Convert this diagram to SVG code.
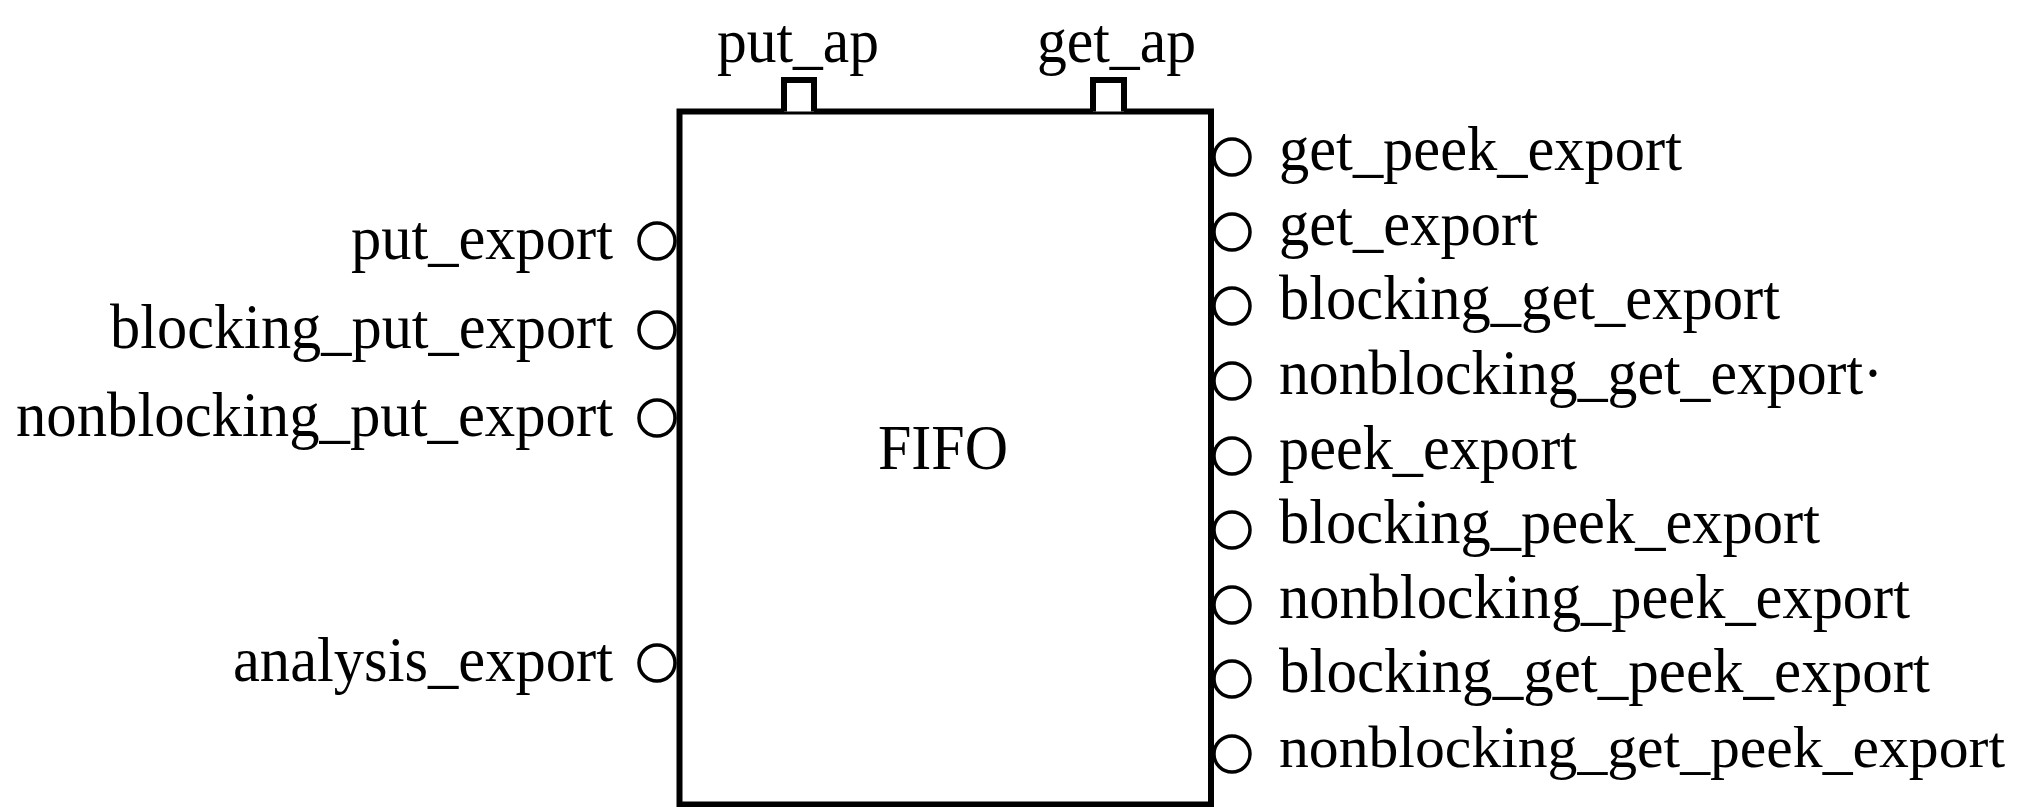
<svg xmlns="http://www.w3.org/2000/svg" width="2022" height="807" viewBox="0 0 2022 807">
<style>
  .lbl { font-family: "Liberation Serif", "Times New Roman", serif; font-size: 63px; fill: #000; }
  .l { text-anchor: end; }
  .port { fill: #fff; stroke: #000; stroke-width: 3.5; }
  .box { fill: #fff; stroke: #000; stroke-width: 6; }
  .ap { fill: #fff; stroke: #000; stroke-width: 6; }
</style>
<rect width="2022" height="807" fill="#fff"/>
<g id="fifo">
  <rect class="box" x="679.5" y="111.5" width="531.5" height="693"/>
  <text class="lbl" x="943" y="469" text-anchor="middle" textLength="130" lengthAdjust="spacingAndGlyphs">FIFO</text>
</g>
<g id="put_ap">
  <path class="ap" d="M784 111.5 V80 H814 V111.5"/>
  <text class="lbl" x="717" y="62" textLength="162" lengthAdjust="spacingAndGlyphs">put_ap</text>
</g>
<g id="get_ap">
  <path class="ap" d="M1093 111.5 V80 H1124 V111.5"/>
  <text class="lbl" x="1037" y="62" textLength="159" lengthAdjust="spacingAndGlyphs">get_ap</text>
</g>
<g id="put_export">
  <circle class="port" cx="657" cy="241" r="18"/>
  <text class="lbl l" x="613" y="259" textLength="262" lengthAdjust="spacingAndGlyphs">put_export</text>
</g>
<g id="blocking_put_export">
  <circle class="port" cx="657" cy="330" r="18"/>
  <text class="lbl l" x="613" y="348" textLength="503" lengthAdjust="spacingAndGlyphs">blocking_put_export</text>
</g>
<g id="nonblocking_put_export">
  <circle class="port" cx="657" cy="418" r="18"/>
  <text class="lbl l" x="613" y="436" textLength="597" lengthAdjust="spacingAndGlyphs">nonblocking_put_export</text>
</g>
<g id="analysis_export">
  <circle class="port" cx="657" cy="663" r="18"/>
  <text class="lbl l" x="613" y="681" textLength="380" lengthAdjust="spacingAndGlyphs">analysis_export</text>
</g>
<g id="get_peek_export">
  <circle class="port" cx="1232" cy="157" r="18"/>
  <text class="lbl" x="1279" y="170" textLength="403" lengthAdjust="spacingAndGlyphs">get_peek_export</text>
</g>
<g id="get_export">
  <circle class="port" cx="1232" cy="232" r="18"/>
  <text class="lbl" x="1279" y="245" textLength="259" lengthAdjust="spacingAndGlyphs">get_export</text>
</g>
<g id="blocking_get_export">
  <circle class="port" cx="1232" cy="306" r="18"/>
  <text class="lbl" x="1279" y="319" textLength="501" lengthAdjust="spacingAndGlyphs">blocking_get_export</text>
</g>
<g id="nonblocking_get_export">
  <circle class="port" cx="1232" cy="381" r="18"/>
  <text class="lbl" x="1279" y="394" textLength="604" lengthAdjust="spacingAndGlyphs">nonblocking_get_export·</text>
</g>
<g id="peek_export">
  <circle class="port" cx="1232" cy="456" r="18"/>
  <text class="lbl" x="1279" y="469" textLength="298" lengthAdjust="spacingAndGlyphs">peek_export</text>
</g>
<g id="blocking_peek_export">
  <circle class="port" cx="1232" cy="530" r="18"/>
  <text class="lbl" x="1279" y="543" textLength="541" lengthAdjust="spacingAndGlyphs">blocking_peek_export</text>
</g>
<g id="nonblocking_peek_export">
  <circle class="port" cx="1232" cy="605" r="18"/>
  <text class="lbl" x="1279" y="618" textLength="631" lengthAdjust="spacingAndGlyphs">nonblocking_peek_export</text>
</g>
<g id="blocking_get_peek_export">
  <circle class="port" cx="1232" cy="679" r="18"/>
  <text class="lbl" x="1279" y="692" textLength="651" lengthAdjust="spacingAndGlyphs">blocking_get_peek_export</text>
</g>
<g id="nonblocking_get_peek_export">
  <circle class="port" cx="1232" cy="754" r="18"/>
  <text class="lbl" x="1279" y="767" style="font-size:60px" textLength="726" lengthAdjust="spacingAndGlyphs">nonblocking_get_peek_export</text>
</g>
<g id="connectors"></g>
</svg>
